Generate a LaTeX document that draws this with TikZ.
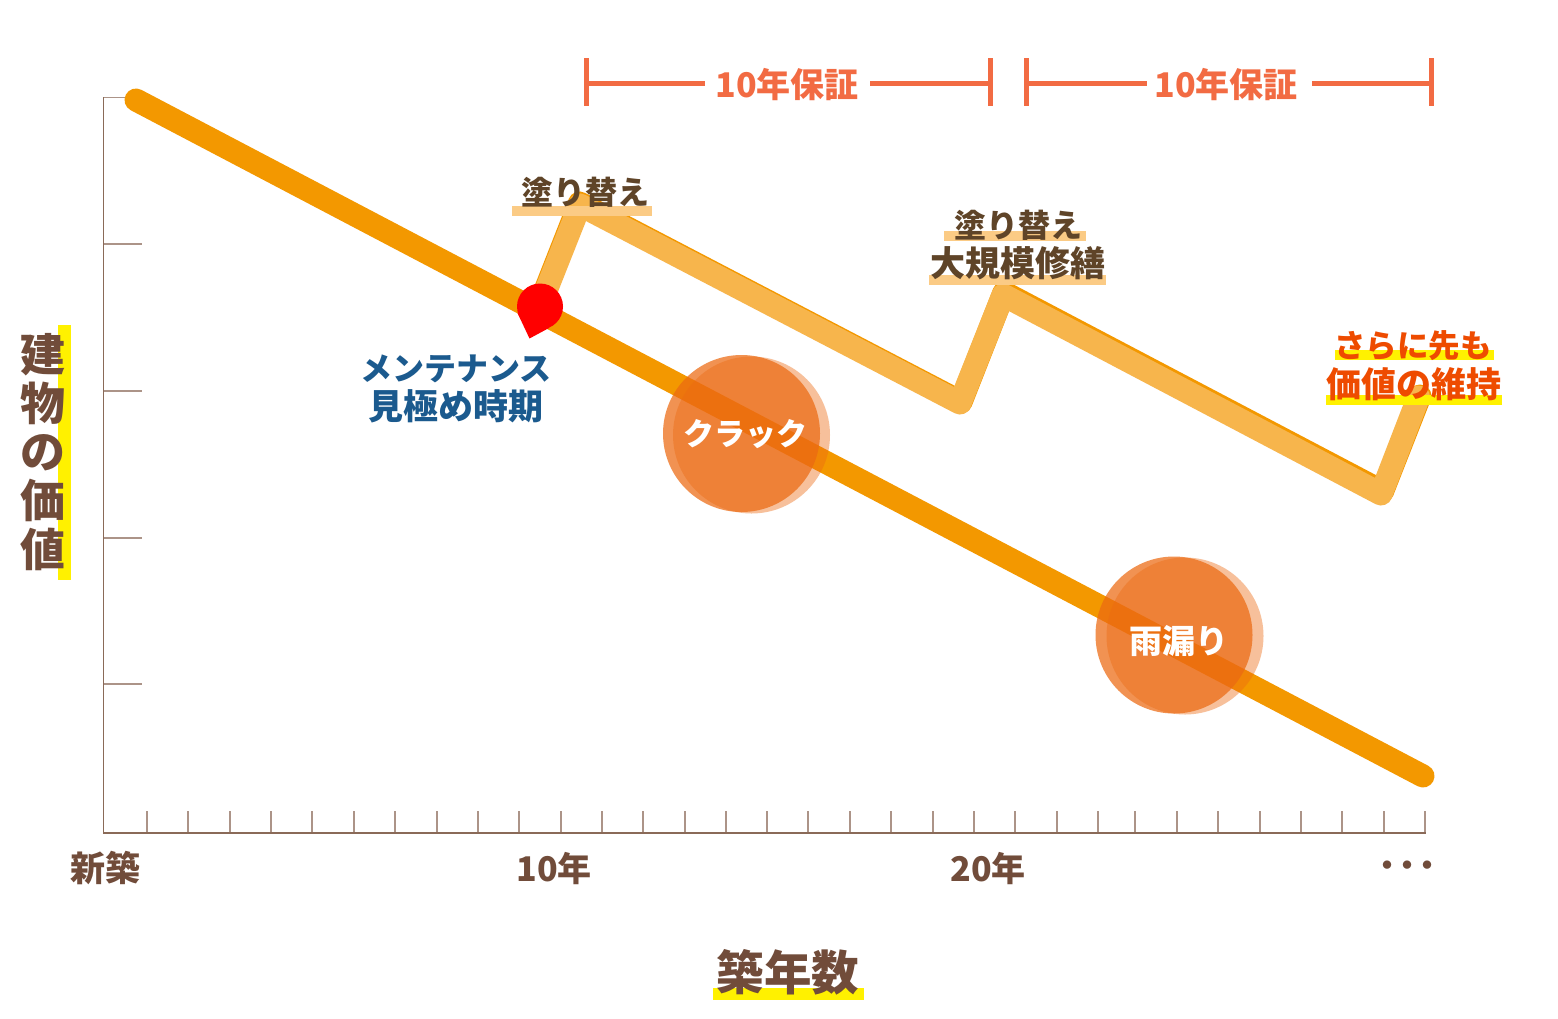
\documentclass[tikz,border=0pt]{standalone}
\usepackage{fontspec}
\setmainfont{Noto Sans CJK JP}
\newcommand\pxf[1]{\pgfmathparse{#1/2}\fontsize{\pgfmathresult}{\pgfmathresult}\selectfont\bfseries}
\definecolor{brown}{HTML}{714C3A}
\definecolor{dbrown}{HTML}{5F4428}
\definecolor{main}{HTML}{F39800}
\definecolor{lite}{HTML}{F7B54C}
\definecolor{band}{HTML}{FBCB85}
\definecolor{yel}{HTML}{FFF100}
\definecolor{hot}{HTML}{EE4B00}
\definecolor{navy}{HTML}{1B5A8E}
\definecolor{brk}{HTML}{F26B43}
\definecolor{circ}{HTML}{EC6A12}
\definecolor{tick}{HTML}{AC9488}
\definecolor{axis}{HTML}{8A6A58}
\tikzset{
  axisline/.style={axis,line width=1.6*.5pt},
  tickline/.style={tick,line width=1.6*.5pt},
  mainline/.style={main,line width=11.5pt,line cap=round,line join=round},
  liteline/.style={lite,line width=11.5pt,line cap=round,line join=round},
  darkline/.style={main,line width=11.5pt,line cap=round,line join=round},
  bracket/.style={brk,line width=2.5pt},
  hl/.style={fill=#1,draw=none},
  lab/.style={inner sep=0pt,anchor=center},
}
\begin{document}
\begin{tikzpicture}[x=0.5pt,y=-0.5pt]
\useasboundingbox[fill=white] (0,0) rectangle (1558,1018);
% axes
\foreach \x in {147,188,230,271,312,354,395,437,478,519,561,602,643,685,726,767,808,850,891,933,974,1015,1057,1098,1135,1177,1218,1260,1301,1342,1384,1425}
  \draw[tickline] (\x,811) -- (\x,833);
\foreach \y in {97.5,244,391,538,684}
  \draw[tickline] (103,\y) -- (142,\y);
\draw[axisline] (103.5,97) -- (103.5,833) -- (1426,833);
% lines
\coordinate (ms) at (136,100);
\coordinate (me) at (1423,776);
\draw[mainline] (ms) -- (me);
\coordinate (d1) at (539,306);
\coordinate (d2) at (579.5,203);
\coordinate (d3) at (961,402);
\coordinate (d4) at (1004,292.5);
\coordinate (d5) at (1382.5,491.5);
\coordinate (d6) at (1420,396);
\draw[darkline] (d1) -- (d2) -- (d3) -- (d4) -- (d5) -- (d6);
\coordinate (l1) at (540,306);
\coordinate (l2) at (580,205);
\coordinate (l3) at (960,403);
\coordinate (l4) at (1003,295);
\coordinate (l5) at (1381,494);
\coordinate (l6) at (1418.5,397);
\draw[liteline] (l1) -- (l2) -- (l3) -- (l4) -- (l5) -- (l6);
% circles
\fill[circ,fill opacity=.73] (741.5,433.5) circle[radius=78.5];
\fill[circ,fill opacity=.42] (751.5,435) circle[radius=78.5];
\fill[circ,fill opacity=.73] (1174,635) circle[radius=78.5];
\fill[circ,fill opacity=.42] (1185,636) circle[radius=78.5];
% pin
\fill[red] (540,306.5) circle[radius=23];
\fill[red] (517.5,313) -- (529.5,338.5) -- (549,328) -- (540,306) -- cycle;
% bands
\fill[hl=band] (512,206) rectangle (652,216);
\fill[hl=band] (944,231) rectangle (1086,241);
\fill[hl=band] (929,275) rectangle (1106,285);
\fill[hl=yel] (1335,350) rectangle (1494,360);
\fill[hl=yel] (1326,395) rectangle (1502,405);
\fill[hl=yel] (58,325) rectangle (71,580);
\fill[hl=yel] (713,988) rectangle (864,1000);
% brackets
\coordinate (a1) at (586,58); \coordinate (a2) at (586,106);
\coordinate (b1) at (990,58); \coordinate (b2) at (990,106);
\coordinate (c1) at (1026,58); \coordinate (c2) at (1026,106);
\coordinate (e1) at (1431,58); \coordinate (e2) at (1431,106);
\coordinate (am) at (586,83); \coordinate (ap) at (705,83);
\coordinate (bp) at (870,83); \coordinate (bm) at (990,83);
\coordinate (cm) at (1026,83); \coordinate (cp) at (1147,83);
\coordinate (ep) at (1312,83); \coordinate (em) at (1431,83);
\draw[bracket] (a1) -- (a2) (b1) -- (b2) (c1) -- (c2) (e1) -- (e2);
\draw[bracket] (am) -- (ap) (bp) -- (bm) (cm) -- (cp) (ep) -- (em);
\node[lab,brk,font=\pxf{34}] (w1) at (787,85) {10年保証};
\node[lab,brk,font=\pxf{34}] (w2) at (1226,85) {10年保証};
% labels
\node[lab,dbrown,font=\pxf{32}] (n1) at (585,192) {塗り替え};
\node[lab,dbrown,font=\pxf{32}] (n2) at (1018,225) {塗り替え};
\node[lab,dbrown,font=\pxf{35}] (n3) at (1018,263) {大規模修繕};
\node[lab,hot,font=\pxf{31.5}] (n4) at (1413,346) {さらに先も};
\node[lab,hot,font=\pxf{35}] (n5) at (1414,384) {価値の維持};
\node[lab,navy,font=\pxf{32}] (n6) at (456,369) {メンテナンス};
\node[lab,navy,font=\pxf{35}] (n7) at (456,406) {見極め時期};
\node[lab,white,font=\pxf{31}] (n8) at (745,434) {クラック};
\node[lab,white,font=\pxf{33}] (n9) at (1179,641) {雨漏り};
% axis labels
\node[lab,brown,align=center,font=\fontsize{22.5}{24.3}\selectfont\bfseries] (yl) at (43,452) {建\\物\\の\\価\\値};
\node[lab,brown,font=\pxf{47.5}] (xl) at (788,972) {築年数};
\node[lab,brown,font=\pxf{35}] (t0) at (105,868) {新築};
\node[lab,brown,font=\pxf{34}] (t1) at (554,868) {10年};
\node[lab,brown,font=\pxf{34}] (t2) at (988,868) {20年};
\node[lab,brown,font=\pxf{30}] (t3) at (1407,869) {・\hspace{-5pt}・\hspace{-5pt}・};
\end{tikzpicture}
\end{document}
